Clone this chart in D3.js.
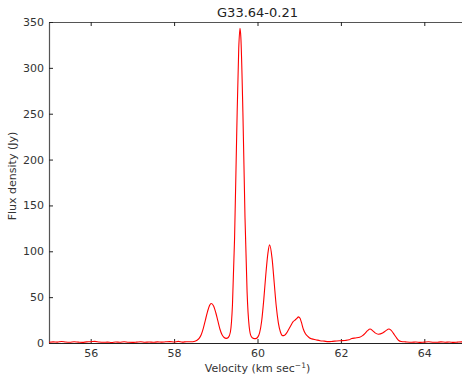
<!DOCTYPE html>
<html>
<head>
<meta charset="utf-8">
<script src="https://cdn.jsdelivr.net/npm/d3@7"></script>
<style>
  body { margin: 0; background: #fff; }
  svg { display: block; font-family: "DejaVu Sans", sans-serif; }
</style>
</head>
<body>
<svg id="svg" width="462" height="379"></svg>
<script>
// spectrum (velocity in km/s, flux in Jy)
const velocity = [
  55.0, 55.1, 55.2, 55.3, 55.4, 55.5, 55.6, 55.7, 55.8, 55.9,
  56.0, 56.1, 56.2, 56.3, 56.4, 56.5, 56.6, 56.7, 56.8, 56.9,
  57.0, 57.1, 57.2, 57.3, 57.4, 57.5, 57.6, 57.7, 57.8, 57.9,
  58.0, 58.1, 58.2, 58.3, 58.4, 58.5, 58.55, 58.6, 58.65, 58.7,
  58.75, 58.8, 58.85, 58.89, 58.95, 59.0, 59.05, 59.1, 59.15, 59.2,
  59.25, 59.3, 59.35, 59.4, 59.45, 59.5, 59.55, 59.58, 59.6, 59.65,
  59.7, 59.75, 59.8, 59.85, 59.9, 59.95, 60.0, 60.05, 60.1, 60.15,
  60.2, 60.25, 60.29, 60.35, 60.4, 60.45, 60.5, 60.55, 60.6, 60.65,
  60.7, 60.75, 60.8, 60.85, 60.9, 60.95, 60.98, 61.02, 61.05, 61.1,
  61.15, 61.2, 61.25, 61.3, 61.4, 61.5, 61.6, 61.7, 61.8, 61.9,
  62.0, 62.1, 62.2, 62.26, 62.35, 62.45, 62.52, 62.58, 62.64, 62.7,
  62.76, 62.82, 62.9, 63.0, 63.08, 63.15, 63.2, 63.26, 63.32, 63.38,
  63.45, 63.55, 63.7, 63.8, 63.9, 64.0, 64.1, 64.2, 64.3, 64.4,
  64.5, 64.6, 64.7, 64.8, 64.9, 65.0
];
const flux = [
  0.8, 1.2, 1.0, 1.6, 1.1, 0.9, 1.3, 1.0, 0.7, 1.2,
  1.4, 1.8, 1.1, 0.8, 1.0, 0.6, 1.1, 0.9, 1.3, 0.8,
  0.7, 1.0, 1.4, 0.9, 1.1, 0.8, 1.2, 1.0, 1.3, 1.5,
  1.1, 1.8, 1.0, 1.4, 1.3, 2.0, 3.0, 5.0, 9.0, 16,
  25, 34, 41, 43, 40, 33, 24, 15, 9, 6,
  5, 6, 12, 42, 114, 225, 321, 343, 334, 251,
  137, 56, 18, 7, 5, 4.8, 6, 11, 24, 47,
  75, 98, 107, 92, 66, 40, 22, 12, 8, 8.5,
  11, 15, 19, 23, 25, 27, 28.5, 27, 23, 15,
  10, 7.5, 5.5, 4.5, 3.5, 2.5, 2.0, 1.5, 1.8, 2.2,
  2.5, 2.8, 3.5, 5, 5.5, 6.2, 8, 10.5, 13.5, 15.2,
  13.5, 11, 9.5, 10.8, 13.5, 15.2, 14, 10.5, 6.5, 3,
  1.6, 1.2, 0.8, 1.1, 0.7, 1.0, 1.3, 0.9, 0.8, 1.2,
  0.9, 1.1, 0.7, 1.0, 1.2, 0.9
];
const xTicks = [56, 58, 60, 62, 64];
const yTicks = [0, 50, 100, 150, 200, 250, 300, 350];
const title = "G33.64-0.21";

const plotLeft = 49, plotRight = 466, plotTop = 22, plotBottom = 343;
const svg = d3.select("#svg");

const x = d3.scaleLinear().domain([55, 65]).range([plotLeft, plotRight]);
const y = d3.scaleLinear().domain([0, 350]).range([plotBottom, plotTop]);

svg.append("clipPath").attr("id", "clip")
  .append("rect")
  .attr("x", plotLeft).attr("y", plotTop)
  .attr("width", plotRight - plotLeft).attr("height", plotBottom - plotTop);

const line = d3.line()
  .x((d, i) => x(velocity[i]))
  .y(d => y(d))
  .curve(d3.curveMonotoneX);

function style(g, col) {
  g.select(".domain").attr("stroke", col).attr("stroke-width", 1.2);
  g.selectAll(".tick line").attr("stroke", "#222");
  g.selectAll(".tick text").attr("fill", "#333").attr("font-size", 11)
    .attr("font-family", "DejaVu Sans, sans-serif");
}

svg.append("g").attr("transform", `translate(0,${plotTop})`)
  .call(d3.axisTop(x).tickValues(xTicks).tickSizeInner(-4).tickSizeOuter(0).tickFormat(""))
  .call(style, "#555");
svg.append("g").attr("transform", `translate(${plotLeft},0)`)
  .call(d3.axisLeft(y).tickValues(yTicks).tickSizeInner(-4).tickSizeOuter(0).tickPadding(5))
  .call(style, "#555");
svg.append("g").attr("transform", `translate(${plotRight},0)`)
  .call(d3.axisRight(y).tickValues(yTicks).tickSizeInner(-4).tickSizeOuter(0).tickFormat(""))
  .call(style, "#555");
svg.append("g").attr("transform", `translate(0,${plotBottom})`)
  .call(d3.axisBottom(x).tickValues(xTicks).tickSizeInner(-4).tickSizeOuter(0).tickPadding(6))
  .call(style, "#222");

svg.append("path")
  .datum(flux)
  .attr("clip-path", "url(#clip)")
  .attr("d", line)
  .attr("fill", "none")
  .attr("stroke", "#ff0000")
  .attr("stroke-width", 1.1);

svg.append("text")
  .attr("x", (plotLeft + plotRight) / 2).attr("y", 17)
  .attr("text-anchor", "middle")
  .attr("font-size", 13).attr("fill", "#222")
  .text(title);

const xl = svg.append("text")
  .attr("x", (plotLeft + plotRight) / 2).attr("y", 372)
  .attr("text-anchor", "middle")
  .attr("font-size", 11).attr("fill", "#333");
xl.append("tspan").text("Velocity (km sec");
xl.append("tspan").attr("font-size", 7.5).attr("dy", -4).text("\u22121");
xl.append("tspan").attr("dy", 4).text(")");

svg.append("text")
  .attr("transform", "translate(16,176) rotate(-90)")
  .attr("text-anchor", "middle")
  .attr("font-size", 11).attr("fill", "#333")
  .text("Flux density (Jy)");
</script>
</body>
</html>
